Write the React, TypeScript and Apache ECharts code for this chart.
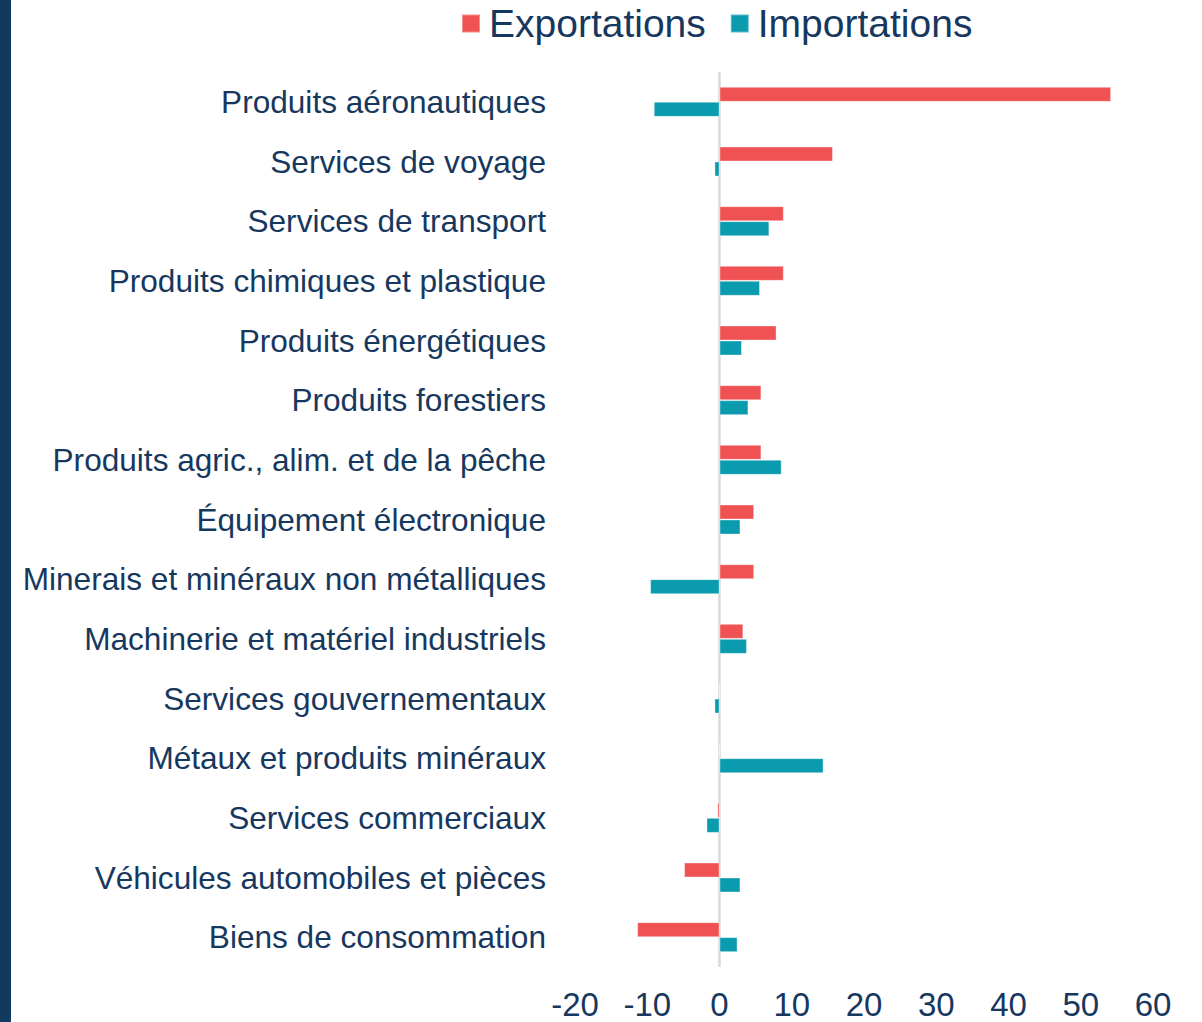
import React, { useEffect, useRef } from "react";
import * as echarts from "echarts";

const categories = [
  "Produits aéronautiques",
  "Services de voyage",
  "Services de transport",
  "Produits chimiques et plastique",
  "Produits énergétiques",
  "Produits forestiers",
  "Produits agric., alim. et de la pêche",
  "Équipement électronique",
  "Minerais et minéraux non métalliques",
  "Machinerie et matériel industriels",
  "Services gouvernementaux",
  "Métaux et produits minéraux",
  "Services commerciaux",
  "Véhicules automobiles et pièces",
  "Biens de consommation",
];

const exportations = [54.2, 15.7, 8.9, 8.9, 7.9, 5.8, 5.8, 4.8, 4.8, 3.3, 0, 0, -0.3, -4.9, -11.4];
const importations = [-9.1, -0.7, 6.9, 5.6, 3.1, 4.0, 8.6, 2.9, -9.6, 3.8, -0.7, 14.4, -1.8, 2.9, 2.5];

const seriesNames = ["Exportations", "Importations"];
const xMin = -20;
const xMax = 60;
const xInterval = 10;

const NAVY = "#17385E";
const RED = "#F05254";
const TEAL = "#0A9BAE";
const FONT = "'Liberation Sans', Arial, sans-serif";

export default function App() {
  const ref = useRef<HTMLDivElement>(null);

  useEffect(() => {
    document.body.style.margin = "0";
    if (!ref.current) return;
    const chart = echarts.init(ref.current, null, { renderer: "svg" });
    chart.setOption({
      animation: false,
      backgroundColor: "#ffffff",
      textStyle: { fontFamily: FONT },
      graphic: [
        {
          type: "rect",
          left: 0,
          top: 0,
          shape: { x: 0, y: 0, width: 11, height: 1022 },
          style: { fill: "#123A5F" },
        },
      ],
      legend: {
        data: seriesNames,
        left: 461,
        top: 4,
        padding: 0,
        icon: "rect",
        itemWidth: 18,
        itemHeight: 18,
        itemGap: 24,
        textStyle: {
          fontSize: 39,
          color: NAVY,
          fontFamily: FONT,
          padding: [0, 0, 0, 4],
        },
      },
      grid: {
        left: 575,
        right: 49,
        top: 72,
        bottom: 55,
        containLabel: false,
      },
      xAxis: {
        type: "value",
        min: xMin,
        max: xMax,
        interval: xInterval,
        axisLine: { show: false },
        axisTick: { show: false },
        splitLine: { show: false },
        axisLabel: {
          fontSize: 33,
          color: NAVY,
          fontFamily: FONT,
          margin: 21,
        },
      },
      yAxis: {
        type: "category",
        data: categories,
        inverse: true,
        axisLine: { show: false },
        axisTick: { show: false },
        splitLine: { show: false },
        axisLabel: {
          fontSize: 31.6,
          color: NAVY,
          fontFamily: FONT,
          margin: 29,
        },
      },
      series: [
        {
          name: seriesNames[0],
          type: "bar",
          data: exportations,
          barWidth: 15,
          barGap: "0%",
          itemStyle: { color: RED, borderColor: "rgba(255,255,255,0.35)", borderWidth: 1 },
          markLine: {
            silent: true,
            symbol: "none",
            label: { show: false },
            lineStyle: { color: "#D9D9D9", width: 2.5, type: "solid" },
            data: [{ xAxis: 0 }],
            z: 1,
          },
        },
        {
          name: seriesNames[1],
          type: "bar",
          data: importations,
          barWidth: 15,
          barGap: "0%",
          itemStyle: { color: TEAL, borderColor: "rgba(255,255,255,0.35)", borderWidth: 1 },
        },
      ],
    });
    return () => chart.dispose();
  }, []);

  return <div ref={ref} style={{ width: 1202, height: 1022 }} />;
}
